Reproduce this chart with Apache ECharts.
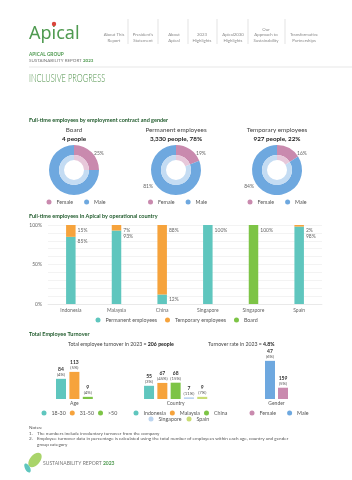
<!DOCTYPE html>
<html>
<head>
<meta charset="utf-8">
<script src="https://cdn.jsdelivr.net/npm/echarts@6.0.0/dist/echarts.min.js"></script>
<style>
  html, body { margin: 0; padding: 0; background: #fff; }
  #main { width: 352px; height: 480px; }
</style>
</head>
<body>
<div id="main"></div>
<script>
// donuts: contract type split by gender
const donutTitles = ['Board', 'Permanent employees', 'Temporary employees'];
const donutSubtitles = ['4 people', '3,330 people, 78%', '927 people, 22%'];
const genderNames = ['Female', 'Male'];
const femaleShare = [25, 19, 16];
const maleShare = [75, 81, 84];

// stacked bars: contract type per country (%)
const countries = ['Indonesia', 'Malaysia', 'China', 'Singapore', 'Singapore', 'Spain'];
const permanentPct = [85, 93, 12, 100, 0, 98];
const temporaryPct = [15, 7, 88, 0, 0, 2];
const boardPct = [0, 0, 0, 0, 100, 0];
const pctTickValues = [0, 50, 100];
const pctTickLabels = ['0%', '50%', '100%'];

// turnover
const ageGroups = ['18-30', '31-50', '>50'];
const ageTurnover = [84, 113, 9];
const ageRate = ['4%', '5%', '4%'];
const countryGroups = ['Indonesia', 'Malaysia', 'China', 'Singapore', 'Spain'];
const countryTurnover = [55, 67, 68, 7, 9];
const countryRate = ['3%', '45%', '15%', '11%', '7%'];
// gender bars in the order drawn (blue first), labels as printed
const genderBarNames = ['Male', 'Female'];
const genderBarHeights = [159, 47];
const genderBarLabels = ['47', '159'];
const genderBarRate = ['6%', '5%'];

const C = {
  teal: '#5fc6be', orange: '#f6a33c', green: '#7dc446', sky: '#bdd5f0', lime: '#c9dc74',
  pink: '#c98aae', blue: '#6ea8df', pinkLight: '#e7c8da', blueLight: '#c4dcf3',
  brand: '#4f9a50', dark: '#1f5a2b', grey: '#666'
};
const FONT = 'Lato';

const chart = echarts.init(document.getElementById('main'));

// ---------- graphic texts ----------
const graphic = [];
function txt(x, y, text, style, extra) {
  graphic.push(Object.assign({
    type: 'text', x: x, y: y, silent: true,
    style: Object.assign({ text: text, fontFamily: FONT, fontSize: 5, fill: '#555',
      textVerticalAlign: 'middle' }, style)
  }, extra || {}));
}

// header
txt(29, 34, 'Apical', { fontSize: 18, fill: C.brand, fontFamily: 'Noto Sans' });
graphic.push({ type: 'circle', shape: { cx: 54, cy: 24, r: 2.2 }, style: { fill: '#d9453b' }, silent: true });
const navItems = ['About This\nReport', "President's\nStatement", 'About\nApical', '2023\nHighlights',
  'Apical2030\nHighlights', 'Our\nApproach to\nSustainability', 'Transformative\nPartnerships'];
const navX = [114, 143, 174, 202, 233, 266, 304];
navItems.forEach((t, i) => {
  txt(navX[i], 43, t, { textAlign: 'center', textVerticalAlign: 'bottom', fontSize: 4.3, lineHeight: 5.4, fill: '#8a8a8a' });
});
[128, 158, 188, 217, 248, 285].forEach(x => {
  graphic.push({ type: 'line', silent: true, shape: { x1: x, y1: 19, x2: x, y2: 44 }, style: { stroke: '#d0d0d0', lineWidth: 0.6 } });
});
txt(29, 54, 'APICAL GROUP', { fontSize: 4.8, fontWeight: 'bold', fill: C.brand });
txt(29, 61, '{a|SUSTAINABILITY REPORT }{b|2023}', {
  rich: { a: { fontSize: 4.5, fill: '#777', fontFamily: FONT }, b: { fontSize: 4.5, fill: C.brand, fontWeight: 'bold', fontFamily: FONT } }
});
graphic.push({ type: 'line', silent: true, shape: { x1: 29, y1: 67, x2: 352, y2: 67 }, style: { stroke: '#d6d6d6', lineWidth: 0.6 } });
txt(29, 78, 'INCLUSIVE PROGRESS', { fontSize: 12.5, fill: '#4a8f45', fontWeight: 300 }, { scaleX: 0.6 });

// section titles
txt(29, 120, 'Full-time employees by employment contract and gender', { fontSize: 5.5, fontWeight: 'bold', fill: C.dark });
txt(29, 216, 'Full-time employees in Apical by operational country', { fontSize: 5.5, fontWeight: 'bold', fill: C.dark });
txt(29, 334, 'Total Employee Turnover', { fontSize: 5.5, fontWeight: 'bold', fill: C.dark });

// donut headings
const donutX = [74, 176, 277];
const donutY = 170;
donutTitles.forEach((t, i) => {
  txt(donutX[i], 130, t, { textAlign: 'center', fontSize: 6.3, fill: '#444' });
  txt(donutX[i], 139, donutSubtitles[i], { textAlign: 'center', fontSize: 6.3, fontWeight: 'bold', fill: '#222' });
});

// turnover headings
txt(68, 344, '{a|Total employee turnover in 2023 = }{b|206 people}', {
  rich: { a: { fontSize: 5.2, fill: '#444', fontFamily: FONT }, b: { fontSize: 5.2, fill: '#222', fontWeight: 'bold', fontFamily: FONT } }
});
txt(208, 344, '{a|Turnover rate in 2023 = }{b|4.8%}', {
  rich: { a: { fontSize: 5.2, fill: '#444', fontFamily: FONT }, b: { fontSize: 5.2, fill: '#222', fontWeight: 'bold', fontFamily: FONT } }
});

// notes
txt(29, 428, 'Notes:', { fontSize: 4.6, fill: '#555' });
txt(29, 433.5, '1.', { fontSize: 4.6, fill: '#555' });
txt(37, 433.5, 'The numbers include involuntary turnover from the company', { fontSize: 4.6, fill: '#555' });
txt(29, 439, '2.', { fontSize: 4.6, fill: '#555' });
txt(37, 439, 'Employee turnover data in percentage is calculated using the total number of employees within each age, country and gender', { fontSize: 4.6, fill: '#555' });
txt(37, 444.5, 'group category', { fontSize: 4.6, fill: '#555' });

// footer
graphic.push({ type: 'ellipse', silent: true, x: 35, y: 460, rotation: -0.7, shape: { cx: 0, cy: 0, rx: 5, ry: 8.5 }, style: { fill: '#a9d46a' } });
graphic.push({ type: 'ellipse', silent: true, x: 27.5, y: 468, rotation: 0.5, shape: { cx: 0, cy: 0, rx: 2.5, ry: 5 }, style: { fill: '#5fc6be' } });
txt(43, 463, '{a|SUSTAINABILITY REPORT }{b|2023}', {
  rich: { a: { fontSize: 5, fill: '#777', fontFamily: FONT }, b: { fontSize: 5, fill: C.brand, fontWeight: 'bold', fontFamily: FONT } }
});

// ---------- series ----------
const series = [];

donutTitles.forEach((t, i) => {
  series.push({
    type: 'pie', silent: true, center: [donutX[i], donutY], radius: [15, 25], startAngle: 90,
    data: genderNames.map((n, k) => ({
      name: n, value: k ? maleShare[i] : femaleShare[i], itemStyle: { color: k ? C.blue : C.pink }
    })),
    label: { show: true, position: 'outside', formatter: '{c}%', fontSize: 5, color: C.grey, fontFamily: FONT },
    labelLine: { show: false },
    labelLayout: p => p.dataIndex === 0
      ? { x: donutX[i] + 20, y: donutY - 17, align: 'left', verticalAlign: 'middle' }
      : { x: donutX[i] - 23, y: donutY + 16, align: 'right', verticalAlign: 'middle' }
  });
  series.push({
    type: 'pie', silent: true, center: [donutX[i], donutY], radius: [10, 15], startAngle: 90,
    data: genderNames.map((n, k) => ({
      name: n, value: k ? maleShare[i] : femaleShare[i], itemStyle: { color: k ? C.blueLight : C.pinkLight }
    })),
    label: { show: false }, labelLine: { show: false }
  });
});

// labels sit at the top-right of each segment; a label under a thin segment is nudged down
const PX_PER_PCT = 0.79;
function pctItems(vals, above) {
  return vals.map((v, k) => {
    const room = above ? above[k] * PX_PER_PCT : 99;
    const shift = above && above[k] > 0 ? Math.max(0, 6 - room) : 0;
    return { value: v, label: { offset: [2, 2.5 + shift] } };
  });
}
const pctLabel = {
  show: true, position: ['100%', 0], align: 'left', verticalAlign: 'top',
  fontSize: 5, color: C.grey, fontFamily: FONT,
  formatter: p => (p.value > 0 ? p.value + '%' : '')
};
[['Permanent employees', pctItems(permanentPct, temporaryPct), C.teal],
 ['Temporary employees', pctItems(temporaryPct), C.orange],
 ['Board', pctItems(boardPct), C.green]]
  .forEach(([name, items, color]) => {
    series.push({
      type: 'bar', name: name, stack: 'contract', xAxisIndex: 0, yAxisIndex: 0, barWidth: 9.5,
      itemStyle: { color: color }, data: items, label: pctLabel, silent: true
    });
  });

function turnoverLabel(count, rate) {
  return {
    show: true, position: 'top', distance: 1.5,
    formatter: () => '{a|' + count + '}\n{b|(' + rate + ')}',
    rich: {
      a: { fontSize: 5, fontWeight: 'bold', color: '#333', fontFamily: FONT, lineHeight: 5.5 },
      b: { fontSize: 4.3, color: '#555', fontFamily: FONT, lineHeight: 5 }
    }
  };
}
function groupSeries(names, heights, labels, rates, colors, axis) {
  names.forEach((n, j) => {
    series.push({
      type: 'bar', name: n, stack: 'g' + axis, xAxisIndex: axis, yAxisIndex: axis, barWidth: 10, silent: true,
      itemStyle: { color: colors[j] },
      data: names.map((_, k) => (k === j ? heights[j] : '-')),
      label: turnoverLabel(labels[j], rates[j])
    });
  });
}
groupSeries(ageGroups, ageTurnover, ageTurnover, ageRate, [C.teal, C.orange, C.green], 1);
groupSeries(countryGroups, countryTurnover, countryTurnover, countryRate, [C.teal, C.orange, C.green, C.sky, C.lime], 2);
groupSeries(genderBarNames, genderBarHeights, genderBarLabels, genderBarRate, [C.blue, C.pink], 3);

// ---------- axes ----------
const hiddenY = i => ({ type: 'value', gridIndex: i, min: 0, max: 200, show: false });
const groupX = (i, data, name) => ({
  type: 'category', gridIndex: i, data: data, name: name, nameLocation: 'middle', nameGap: 1.5,
  nameTextStyle: { fontSize: 5, color: '#555', fontFamily: FONT, verticalAlign: 'top' },
  axisLine: { show: false }, axisTick: { show: false }, axisLabel: { show: false }
});

const legendBase = {
  icon: 'circle', itemWidth: 5, itemHeight: 5, selectedMode: false, padding: 0,
  textStyle: { fontSize: 5.3, color: '#555', fontFamily: FONT }
};

chart.setOption({
  animation: false,
  backgroundColor: '#fff',
  textStyle: { fontFamily: FONT },
  graphic: graphic,
  grid: [
    { left: 48, right: 30, top: 225, height: 79 },
    { left: 54.3, width: 40.2, top: 351, height: 48 },
    { left: 142.4, width: 66.5, top: 351, height: 48 },
    { left: 263.5, width: 26, top: 351, height: 48 }
  ],
  xAxis: [
    {
      type: 'category', gridIndex: 0, data: countries,
      axisLine: { lineStyle: { color: '#e3e3e3', width: 0.6 } }, axisTick: { show: false },
      axisLabel: { fontSize: 5, color: C.grey, margin: 4, fontFamily: FONT }
    },
    groupX(1, ageGroups, 'Age'),
    groupX(2, countryGroups, 'Country'),
    groupX(3, genderBarNames, 'Gender')
  ],
  yAxis: [
    {
      type: 'value', gridIndex: 0, min: 0, max: 100, interval: 10,
      axisLine: { show: false }, axisTick: { show: false },
      axisLabel: {
        fontSize: 5, color: C.grey, margin: 6, fontFamily: FONT,
        formatter: v => { const k = pctTickValues.indexOf(v); return k >= 0 ? pctTickLabels[k] : ''; }
      },
      splitLine: { lineStyle: { color: '#ebebeb', width: 0.6 } }
    },
    hiddenY(1), hiddenY(2), hiddenY(3)
  ],
  legend: [
    Object.assign({}, legendBase, { data: genderNames, left: donutX[0] - 27.5, top: 199.5, itemGap: 11 }),
    Object.assign({}, legendBase, { data: genderNames, left: donutX[1] - 28, top: 199.5, itemGap: 11 }),
    Object.assign({}, legendBase, { data: genderNames, left: donutX[2] - 29.5, top: 199.5, itemGap: 11 }),
    Object.assign({}, legendBase, { data: ['Permanent employees', 'Temporary employees', 'Board'], left: 95.5, top: 317.5, itemGap: 8 }),
    Object.assign({}, legendBase, { data: ageGroups, left: 41.5, top: 410.5, itemGap: 4 }),
    Object.assign({}, legendBase, { data: countryGroups.slice(0, 3), left: 133.5, top: 410.5, itemGap: 4 }),
    Object.assign({}, legendBase, { data: countryGroups.slice(3), left: 148.5, top: 416.5, itemGap: 5 }),
    Object.assign({}, legendBase, { data: genderNames, left: 249.5, top: 410.5, itemGap: 11 })
  ],
  series: series
});
</script>
</body>
</html>
